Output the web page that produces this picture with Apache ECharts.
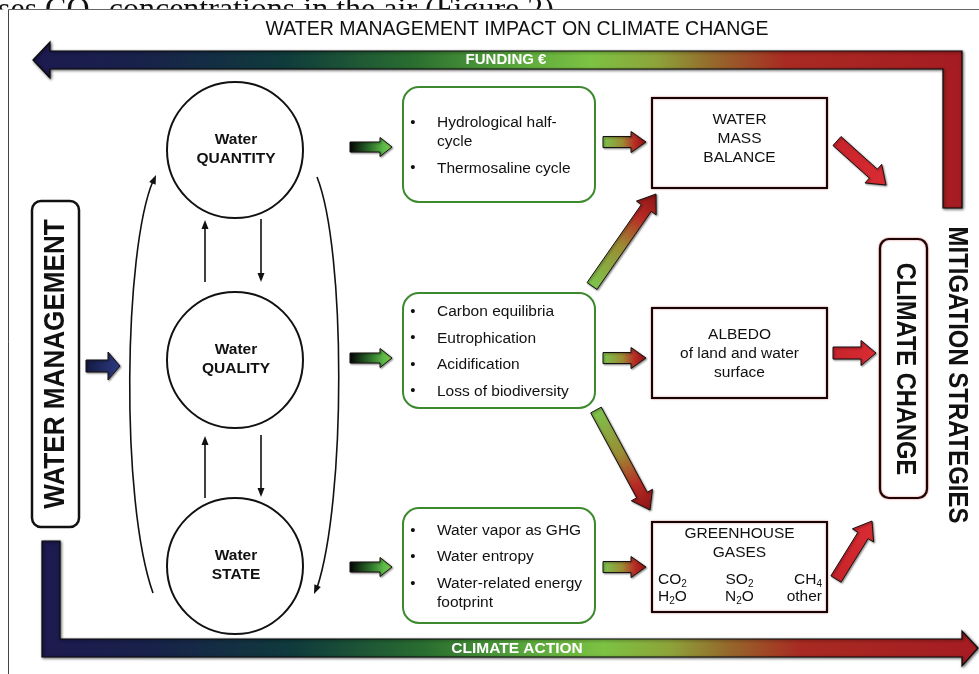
<!DOCTYPE html>
<html>
<head>
<meta charset="utf-8">
<script src="https://cdn.jsdelivr.net/npm/echarts@6/dist/echarts.min.js"></script>
<style>
	html, body { margin: 0; padding: 0; background: #fff; }
	#chart { width: 979px; height: 674px; }
</style>
</head>
<body>
<div id="chart"></div>
<script>
// texts of the diagram
var captionText = 'ses CO\u2082 concentrations in the air (Figure 2)';
var titleText = 'WATER MANAGEMENT IMPACT ON CLIMATE CHANGE';
var fundingLabel = 'FUNDING \u20ac';
var actionLabel = 'CLIMATE ACTION';
var sourceLabel = 'WATER MANAGEMENT';
var targetLabel = 'CLIMATE CHANGE';
var strategyLabel = 'MITIGATION STRATEGIES';
var waterAspects = [['Water', 'QUANTITY'], ['Water', 'QUALITY'], ['Water', 'STATE']];
var processLists = [
	[['Hydrological half-', 'cycle'], ['Thermosaline cycle']],
	[['Carbon equilibria'], ['Eutrophication'], ['Acidification'], ['Loss of biodiversity']],
	[['Water vapor as GHG'], ['Water entropy'], ['Water-related energy', 'footprint']]
];
var effectTitles = [['WATER', 'MASS', 'BALANCE'], ['ALBEDO', 'of land and water', 'surface'], ['GREENHOUSE', 'GASES']];
var gasRows = [['CO{s|2}', 'SO{s|2}', 'CH{s|4}'], ['H{s|2}O', 'N{s|2}O', 'other']];

(function() {
	var myChart = echarts.init(document.getElementById('chart'));
	var FONT = '"Liberation Sans", Arial, Helvetica, sans-serif';
	var els = [];

	// layout
	var rowY = [150, 360, 566];
	var circleX = 235, circleR = 68;
	var procX = 403, procW = 192, procH = 115, procTop = [87, 293, 508];
	var effX = 652, effW = 175, effH = 90, effTop = [98, 308, 522];

	function label(x, y, text, size, opt) {
		opt = opt || {};
		var el = {
			type: 'text',
			z: opt.z || 30,
			x: x,
			y: y,
			rotation: opt.rotation || 0,
			scaleX: opt.scaleX || 1,
			style: {
				text: text,
				fill: opt.color || '#111',
				font: (opt.weight || 'normal') + ' ' + size + 'px ' + (opt.family || FONT),
				textAlign: opt.align || 'center',
				align: opt.align || 'center',
				textVerticalAlign: 'middle',
				verticalAlign: 'middle'
			}
		};
		if (opt.rich) {
			el.style.rich = opt.rich;
			el.style.lineHeight = 18;
		}
		els.push(el);
	}

	function arrowPoints(x1, y1, x2, y2, shaft, head, headLen) {
		var dx = x2 - x1, dy = y2 - y1;
		var len = Math.sqrt(dx * dx + dy * dy);
		var ux = dx / len, uy = dy / len;
		var nx = -uy, ny = ux;
		var bx = x2 - ux * headLen, by = y2 - uy * headLen;
		var s = shaft / 2, h = head / 2;
		return [
			[x1 + nx * s, y1 + ny * s],
			[bx + nx * s, by + ny * s],
			[bx + nx * h, by + ny * h],
			[x2, y2],
			[bx - nx * h, by - ny * h],
			[bx - nx * s, by - ny * s],
			[x1 - nx * s, y1 - ny * s]
		];
	}

	function fatArrow(x1, y1, x2, y2, shaft, head, headLen, stops) {
		els.push({
			type: 'polygon',
			z: 20,
			shape: { points: arrowPoints(x1, y1, x2, y2, shaft, head, headLen) },
			style: {
				fill: new echarts.graphic.LinearGradient(x1, y1, x2, y2, stops, true),
				stroke: '#1a1010',
				lineWidth: 1,
				shadowBlur: 2,
				shadowColor: 'rgba(0,0,0,0.45)',
				shadowOffsetX: 1,
				shadowOffsetY: 1
			}
		});
	}

	function headTri(x, y, ux, uy, len, wid) {
		var bx = x - ux * len, by = y - uy * len;
		return [[x, y], [bx - uy * wid / 2, by + ux * wid / 2], [bx + uy * wid / 2, by - ux * wid / 2]];
	}

	function thinArrow(x1, y1, x2, y2) {
		var dx = x2 - x1, dy = y2 - y1;
		var len = Math.sqrt(dx * dx + dy * dy);
		var ux = dx / len, uy = dy / len;
		els.push({
			type: 'line', z: 20,
			shape: { x1: x1, y1: y1, x2: x2 - ux * 6, y2: y2 - uy * 6 },
			style: { stroke: '#111', lineWidth: 1.6 }
		});
		els.push({
			type: 'polygon', z: 20,
			shape: { points: headTri(x2, y2, ux, uy, 9, 7) },
			style: { fill: '#111' }
		});
	}

	// caption of the page above, cut by the frame
	label(-2, 11, captionText, 32, { family: '"Liberation Serif", "Times New Roman", serif', align: 'left', z: 1 });
	els.push({ type: 'rect', z: 2, shape: { x: 0, y: 9.5, width: 979, height: 670 }, style: { fill: '#fff' } });
	els.push({ type: 'line', z: 3, shape: { x1: 8.5, y1: 9.5, x2: 979, y2: 9.5 }, style: { stroke: '#666', lineWidth: 1 } });
	els.push({ type: 'line', z: 3, shape: { x1: 8.5, y1: 9.5, x2: 8.5, y2: 674 }, style: { stroke: '#444', lineWidth: 1 } });

	label(517, 30, titleText, 19.5);

	var bandStops = [
		{ offset: 0, color: '#1d1a50' },
		{ offset: 0.12, color: '#18224a' },
		{ offset: 0.27, color: '#0f3b3c' },
		{ offset: 0.41, color: '#2a6e30' },
		{ offset: 0.52, color: '#5aa83c' },
		{ offset: 0.6, color: '#7cc243' },
		{ offset: 0.67, color: '#8da43a' },
		{ offset: 0.73, color: '#956a2c' },
		{ offset: 0.81, color: '#a82a22' },
		{ offset: 1, color: '#a51c22' }
	];
	var bandStyle = {
		fill: new echarts.graphic.LinearGradient(0, 0, 1, 0, bandStops),
		stroke: '#0a0a0a',
		lineWidth: 1.2,
		shadowBlur: 3,
		shadowColor: 'rgba(0,0,0,0.6)',
		shadowOffsetX: 1,
		shadowOffsetY: 1
	};

	// funding band (top, pointing left)
	els.push({
		type: 'polygon', z: 10,
		shape: { points: [[33, 60], [50, 42], [50, 51], [962, 51], [962, 208], [943, 208], [943, 69], [50, 69], [50, 78]] },
		style: bandStyle
	});
	label(506, 60, fundingLabel, 15, { weight: 'bold', color: '#fff' });

	// climate action band (bottom, pointing right)
	els.push({
		type: 'polygon', z: 10,
		shape: { points: [[42, 541], [60, 541], [60, 639], [962, 639], [962, 631], [978, 648], [962, 666], [962, 657], [42, 657]] },
		style: bandStyle
	});
	label(517, 649, actionLabel, 15.5, { weight: 'bold', color: '#fff' });

	// water management box
	els.push({
		type: 'rect', z: 15,
		shape: { x: 32, y: 201, width: 47, height: 326, r: 9 },
		style: { fill: '#fff', stroke: '#111', lineWidth: 2.5 }
	});
	label(56, 364, sourceLabel, 30, { weight: 'bold', rotation: Math.PI / 2, scaleX: 0.87 });

	fatArrow(86, 366, 120, 366, 12, 28, 12, [
		{ offset: 0, color: '#141a44' },
		{ offset: 1, color: '#2d3c82' }
	]);

	// loop around the circles
	els.push({
		type: 'bezierCurve', z: 20,
		shape: { x1: 153, y1: 593, cpx1: 120, cpy1: 500, cpx2: 124, cpy2: 250, x2: 153, y2: 181 },
		style: { stroke: '#111', lineWidth: 1.6, fill: 'none' }
	});
	els.push({ type: 'polygon', z: 20, shape: { points: headTri(156, 175, 0.4, -0.92, 9, 7) }, style: { fill: '#111' } });
	els.push({
		type: 'bezierCurve', z: 20,
		shape: { x1: 317, y1: 177, cpx1: 346, cpy1: 250, cpx2: 346, cpy2: 500, x2: 317, y2: 588 },
		style: { stroke: '#111', lineWidth: 1.6, fill: 'none' }
	});
	els.push({ type: 'polygon', z: 20, shape: { points: headTri(314, 594, -0.4, 0.92, 9, 7) }, style: { fill: '#111' } });

	// circles
	waterAspects.forEach(function(lines, i) {
		els.push({
			type: 'circle', z: 20,
			shape: { cx: circleX, cy: rowY[i], r: circleR },
			style: { fill: '#fff', stroke: '#111', lineWidth: 2 }
		});
		label(circleX + 1, rowY[i] - 10, lines[0], 15.5, { weight: 'bold' });
		label(circleX + 1, rowY[i] + 9, lines[1], 15.5, { weight: 'bold' });
	});
	thinArrow(205, 282, 205, 220);
	thinArrow(261, 219, 261, 282);
	thinArrow(205, 498, 205, 436);
	thinArrow(261, 435, 261, 497);

	var greenStops = [
		{ offset: 0, color: '#050505' },
		{ offset: 0.45, color: '#2b6a2a' },
		{ offset: 0.8, color: '#5cb947' },
		{ offset: 1, color: '#78c64c' }
	];
	var shiftStops = [
		{ offset: 0, color: '#7cc54d' },
		{ offset: 0.45, color: '#9b8a33' },
		{ offset: 0.75, color: '#b82a25' },
		{ offset: 1, color: '#8a1414' }
	];
	var greenArrowY = [147, 358, 567];
	var shiftArrowY = [142, 358, 567];

	// process boxes
	processLists.forEach(function(items, i) {
		var top = procTop[i];
		els.push({
			type: 'rect', z: 15,
			shape: { x: procX, y: top, width: procW, height: procH, r: 16 },
			style: { fill: '#fff', stroke: '#3d8a2e', lineWidth: 2 }
		});
		var offs = [], y = 0;
		items.forEach(function(item, k) {
			if (k > 0) y += 26.5;
			item.forEach(function(line, j) {
				if (j > 0) y += 19;
				offs.push({ y: y, text: line, bullet: j === 0 });
			});
		});
		var start = top + procH / 2 - y / 2 + 1;
		offs.forEach(function(o) {
			if (o.bullet) {
				label(413, start + o.y, '\u2022', 15);
			}
			label(437, start + o.y, o.text, 15.5, { align: 'left' });
		});
		fatArrow(350, greenArrowY[i], 392, greenArrowY[i], 10, 19, 12, greenStops);
		fatArrow(603, shiftArrowY[i], 646, shiftArrowY[i], 11, 21, 15, shiftStops);
	});

	// diagonal arrows from the middle box
	fatArrow(592, 286, 656, 194, 12, 24, 17, shiftStops);
	fatArrow(596, 410, 650, 510, 12, 24, 17, shiftStops);

	// effect boxes
	effectTitles.forEach(function(lines, i) {
		var top = effTop[i];
		els.push({
			type: 'rect', z: 15,
			shape: { x: effX, y: top, width: effW, height: effH },
			style: { fill: '#fff', stroke: '#140606', lineWidth: 2, shadowBlur: 2, shadowColor: 'rgba(170,20,20,0.55)' }
		});
		var cx = effX + effW / 2;
		if (i < 2) {
			var first = top + effH / 2 - 19 - (i === 0 ? 4 : -1);
			lines.forEach(function(line, j) {
				label(cx, first + j * 19, line, 15.5);
			});
		} else {
			label(cx, top + 12, lines[0], 15.5);
			label(cx, top + 31, lines[1], 15.5);
		}
	});
	var gasRich = {
		s: { fontSize: 10, fontFamily: FONT, fill: '#111', color: '#111', lineHeight: 8, verticalAlign: 'bottom' }
	};
	var gasX = [effX + 6, effX + effW / 2, effX + effW - 5];
	var gasAlign = ['left', 'center', 'right'];
	gasRows.forEach(function(row, r) {
		row.forEach(function(g, c) {
			label(gasX[c], effTop[2] + 58 + r * 17, g, 15.5, { align: gasAlign[c], rich: gasRich });
		});
	});

	// red arrows into climate change
	var redStops = [
		{ offset: 0, color: '#c8242b' },
		{ offset: 1, color: '#d92c33' }
	];
	fatArrow(837, 141, 886, 185, 12, 25, 17, redStops);
	fatArrow(833, 353, 876, 353, 12, 25, 15, redStops);
	fatArrow(836, 579, 872, 521, 12, 25, 17, redStops);

	els.push({
		type: 'rect', z: 15,
		shape: { x: 880, y: 239, width: 47, height: 259, r: 9 },
		style: { fill: '#fff', stroke: '#1e0505', lineWidth: 2.2, shadowBlur: 2, shadowColor: 'rgba(190,25,25,0.6)' }
	});
	label(905, 369, targetLabel, 27.5, { weight: 'bold', rotation: -Math.PI / 2, scaleX: 0.86 });
	label(957, 375, strategyLabel, 27.5, { weight: 'bold', rotation: -Math.PI / 2, scaleX: 0.87 });

	option = {
		animation: false,
		graphic: { elements: els }
	};
	myChart.setOption(option);
})();
</script>
</body>
</html>
